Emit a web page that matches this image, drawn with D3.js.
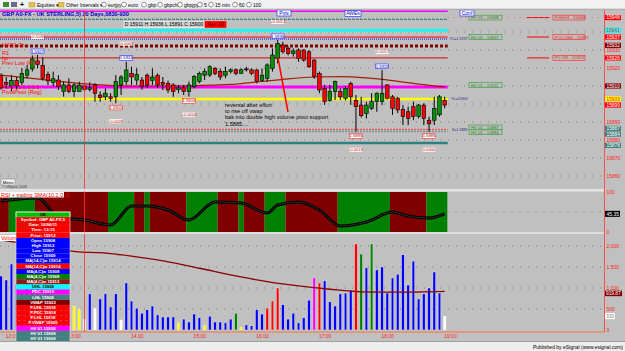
<!DOCTYPE html>
<html>
<head>
<meta charset="utf-8">
<script src="https://cdn.jsdelivr.net/npm/d3@7"></script>
<style>
  body { margin: 0; background: #c0c0c0; }
  svg { display: block; font-family: "Liberation Sans", Arial, sans-serif; }
</style>
</head>
<body>
<div id="chart"></div>
<script>
//-------- data (5 min bars, 11:50 .. 18:55) --------//
const openP  = [15916,15912,15910,15913,15912,15916,15919.5,15924,15921.5,15916.5,15912,15913.3,15906.9,15910.6,15906.9,15907,15910,15908,15910.6,15905,15904,15904,15904,15910.6,15912.4,15917,15913.3,15913.3,15916,15913,15916,15912,15911.5,15910.6,15908,15909,15906.9,15909.6,15912.4,15916,15916.1,15919.8,15918,15916,15918,15919,15917,15919.5,15919,15918.9,15913,15914.3,15919.8,15925.4,15932.8,15931,15928,15930,15930,15929,15924.4,15917,15908.7,15902,15906.9,15906.9,15903.2,15911.5,15902,15899.4,15894.8,15897.6,15901.3,15901.3,15910.6,15904,15903.2,15897,15895.7,15898.5,15893,15899.4,15891,15891,15894,15902];
const highP  = [15917,15915,15916,15915,15920,15921.7,15927,15927.2,15926,15918,15918,15916,15912.4,15914.3,15911.5,15912.4,15911.5,15912,15911.5,15907,15908.7,15906,15916.1,15916,15923.5,15920.7,15919.8,15915,15917,15919.8,15917,15915,15913,15911.5,15910.6,15910.6,15912.4,15916.1,15918,15919.8,15921.5,15920.5,15919.8,15920.7,15919.8,15919.8,15919.8,15920.7,15919.8,15919.5,15919.8,15922.6,15930.9,15935.6,15934.6,15932,15930.9,15930.9,15930.5,15930,15925,15918,15910.6,15910.6,15913,15908.7,15910,15912.4,15905,15904,15901.3,15906,15906.5,15918.9,15911,15905,15904,15899.4,15898.5,15901.3,15900,15900.4,15893,15904,15905,15904];
const lowP   = [15908,15908.7,15907,15908,15910.5,15914.3,15918,15919.8,15913,15910.5,15909.8,15907.8,15904.1,15906,15904,15906.9,15906.9,15907,15901.3,15901.3,15902.2,15901.3,15900.4,15905,15910.6,15910.6,15910.6,15908,15909,15910.6,15909,15907.8,15906,15904,15906,15905,15904.1,15908.7,15911.5,15913.3,15915,15916,15913.3,15914.3,15917,15916,15917,15918,15916,15911.5,15912.5,15912.4,15918,15922.6,15928,15927,15926.3,15923.5,15923.5,15920,15914,15906,15899.5,15901.3,15902.2,15902.2,15902,15899.5,15884.6,15892.5,15892,15896.7,15895.7,15899.4,15902.5,15894,15895,15888.3,15888.3,15891,15892,15888.3,15884.6,15888.3,15893,15897.6];
const closeP = [15909,15911,15913,15910,15917,15919,15925,15922,15914.3,15912.8,15914,15909.6,15910.6,15906.9,15910.6,15910.5,15908,15909,15906,15903.5,15906,15903,15912.4,15915,15918.9,15915,15916.5,15909.6,15910.6,15915,15910.6,15911,15907.8,15906.9,15909,15907,15910.6,15915.2,15917,15918,15920.7,15917,15915,15918,15919,15917,15919,15919,15917,15912.4,15916,15921.7,15927.2,15933.7,15929,15928,15929.5,15925.4,15924.4,15920.7,15915.2,15907.8,15901.3,15907,15912.4,15904,15908.7,15904,15898.5,15893.5,15899.4,15901.3,15906,15906,15903.2,15897.6,15896.7,15893,15892,15893,15899.4,15892,15889,15897.6,15904,15899.4];

const volume = [1285,1190,1570,1100,950,1300,1400,1050,800,900,700,650,550,480,570,500,260,860,520,740,860,550,860,240,1120,690,520,400,480,570,360,310,310,310,170,260,190,380,290,100,330,190,190,170,260,400,70,120,100,480,380,520,690,1000,600,260,400,170,290,710,1240,1120,1170,670,570,860,880,950,2050,1810,1480,2050,1430,1500,880,1240,1330,1790,1070,1640,740,860,1000,1380,880,330];
// b blue, y yellow, w white, g green, r red, m magenta
const volColor = "bbbbbbbbbbbbbbyywbwbbbbwbbbbbbbbbbybbbbybbbbbgybbbbrrrbbbbbbmrbbbbbbrgbgbbbbbbbbbbbbbw".split("");

// moving averages and RSI, read at a few bars
const maIdx    = [0,5,10,15,20,25,30,35,40,45,50,55,60,65,70,75,80,85];
const maPrice  = [15916,15914.5,15913,15911.5,15910.5,15910,15910,15910,15910.5,15911,15912.5,15914,15915,15915.2,15914.5,15913,15911,15909.5];
const volMaIdx = [0,5,10,15,19,25,30,38,45,51,57,63,69,76,85];
const volMa    = [2140,2050,1950,1860,1840,1760,1670,1470,1290,1150,1050,970,910,900,919.87];
const rsiIdx   = [0,7,11,16,21,25,28,32,36,41,46,51,53,57,61,65,70,75,78,82,85];
const rsiVal   = [77.5,85,37.5,30,17.5,65,65,55,30,75,72.5,47.5,67.5,75,55,15,25,50,40,35,45.35];
const rsiBandFrom  = [0,2,7,21,26,28,29,36,42,46,47,51,55,65,75,82];
const rsiBandTo    = [1,6,20,25,27,28,35,41,45,46,50,54,64,74,81,85];
const rsiBandColor = ["#800000","#008000","#800000","#008000","#800000","#008000","#800000","#008000","#800000","#008000","#800000","#008000","#800000","#008000","#800000","#008000"];

const timeIdx    = [2,14,26,38,50,62,74,86];
const timeLabels = ["12:00","13:00","14:00","15:00","16:00","17:00","18:00","19:00"];
const priceTicks = [15860,15870,15880,15890,15900,15910,15920,15930,15940];
const priceLabelTicks = [15860,15870,15880,15890,15920,15930]; // the others sit under the boxes
const volTicks   = [0,500,1000,1500,2000];

// horizontal levels on the price pane
const levelPrice = [15951.5,15947,15941,15937.2,15936.1,15932.2,15925.6,15909.5,15902.8,15885.8,15884.7,15878.3];
const levelColor = ["#ff00ff","#2f8080","#00ffff","#ff0000","#0000ff","#800000","#e00000","#ff00ff","#ffff00","#ff5050","#5fa0a0","#2f8080"];
const levelWidth = [1.5,1,2.5,1,1,3,1,3,2.5,1.5,1.5,2.5];
const levelDash  = [null,"3,1",null,null,"1,1","3,2",null,null,null,"2,1","2,1",null];

// boxes on the price axis
const axisBoxPrice = [15948,15941,15937.2,15932.6,15925.6,15910,15902.8,15899.4,15886.5,15883.3,15877];
const axisBoxText  = ["15948","15941","15937","15932","15926","15910","15903","15899","15887","15884","15878"];
const axisBoxColor = ["#ff0000","#00ffff","#ff0000","#800000","#ff0000","#800000","#ffff00","#ff0000","#408080","#408080","#408080"];

// swing labels
const swingIdx   = [7,24,53,73,22,36,68,82];
const swingHigh  = [true,true,true,true,false,false,false,false];
const swingText  = ["1.5927","1.5924","1.5936","1.5919","1.5900","1.5904","1.5885","1.5885"];
const swingDelta = ["+0.0030","-0.0003","+0.0012","-0.0017","-0.0028","+0.0004","-0.0019","0.0000"];

// right side tags
const hvPrice = [15948,15937.2,15910.5,15887,15884.3];
const hvText  = ["HV 01 - 15948","HV 01 - 15937","HV 01 - 15911","HV 01 - 15887","HV 01 - 15884"];
const prevPrice = [15948,15937.2,15925.6];
const prevText  = ["P.HIGH - 15948","P.CLOSE - 15937","P.LOW - 15926"];
const tagPrice = [15936.2,15902.8,15885.6];
const tagText  = ["YC=1.5937","YL=15903","S=1.5885"];

const leftLabelPrice = [15932.8,15928.5,15925.8,15923,15909.5,15906.5];
const leftLabelText  = ["MA50 Ch","R1","hp","Prev Low (P)","PL-5...1.1.1.1.1","PivotPivot (Reg)"];

const note = ["reversal after effort","to rise off vwap","bak into double high volume pivot support","1.5885...."];

const dwText = ["OK","Symbol: GBP A0-FX,5","Date: 10/06/11","Time: 13:15","Price: 15912","Open 15908","High 15912","Low 15907","Close 15909","MA(14,C)w 15914","MA(14,C)w 15914","MA(4,C)w 15908","MA(4,C)w 15908","MA(4,C)w 15913","UHL 15908","PDC 15910","LHL 15908","VWAP 15922","P.UHL 15918","P.PDC 15918","P.LHL 15918","P.VWAP 15926","HV 01 15938","HV 01 15908","HV 01 15908","HV 01 15908"];
const dwColor = ["#00c000","#ff0000","#ff0000","#ff0000","#ff0000","#0000ff","#0000ff","#0000ff","#0000ff","#0000ff","#ff0000","#0000ff","#008000","#8b1a1a","#00ffff","#ff00ff","#408080","#800000","#ff0000","#ff0000","#ff0000","#ff0000","#ff00ff","#408080","#408080","#408080"];

const toolbarItems = ["eurjpy","euro","gbp","gbpchf","gbpjpy","5","15 min","60","100"];
const toolbarX     = [104,124,144,160,180,200,211,235,249];

const cursorIdx = 16;

//-------- scales --------//
const width = 625, height = 351;
const axisX = 604.5;
const x  = d3.scaleLinear().domain([0, 86]).range([1, 1 + 86 * 5.22]);
const yP = d3.scaleLinear().domain([15860, 15950]).range([176, 14]);
const yR = d3.scaleLinear().domain([0, 100]).range([232, 192]);
const yV = d3.scaleLinear().domain([0, 2000]).range([330, 246]);
const dataEnd = x(85) + 3;

const colorOf = {b: "#0000ff", y: "#ffff00", w: "#ffffff", g: "#008000", r: "#ff0000", m: "#ff00ff"};

const svg = d3.create("svg").attr("width", width).attr("height", height);

svg.append("rect").attr("width", width).attr("height", height).attr("fill", "#c0c0c0");

//-------- grid --------//
svg.append("g").selectAll("line").data(priceTicks).join("line")
  .attr("x1", 0).attr("x2", axisX - 2)
  .attr("y1", d => yP(d)).attr("y2", d => yP(d))
  .attr("stroke", "#808080").attr("stroke-dasharray", "1,7");

//-------- RSI pane --------//
svg.append("g").selectAll("rect").data(rsiBandFrom).join("rect")
  .attr("x", (d, i) => x(d) - 2.6)
  .attr("width", (d, i) => x(rsiBandTo[i]) - x(d) + 5.22)
  .attr("y", 192).attr("height", 40)
  .attr("fill", (d, i) => rsiBandColor[i]);
svg.append("line").attr("x1", dataEnd).attr("x2", axisX - 2).attr("y1", yR(50)).attr("y2", yR(50))
  .attr("stroke", "#808080").attr("stroke-dasharray", "1,7");

const rsiLine = d3.line().x(d => x(d)).y((d, i) => yR(rsiVal[i])).curve(d3.curveMonotoneX);
svg.append("path").attr("d", rsiLine(rsiIdx)).attr("fill", "none").attr("stroke", "#000").attr("stroke-width", 3);
svg.append("path").attr("d", rsiLine(rsiIdx)).attr("fill", "none").attr("stroke", "#5a5a5a").attr("stroke-width", 0.5);

svg.append("rect").attr("x", 0).attr("y", 191.5).attr("width", 64).attr("height", 6).attr("fill", "#fff");
svg.append("text").attr("x", 1).attr("y", 196.5).attr("font-size", 5.5).attr("fill", "#ff0000")
  .text("RSI + trailing SMA(10,2,0,2)");

//-------- volume pane --------//
svg.append("g").selectAll("line").data(volTicks.slice(1)).join("line")
  .attr("x1", 0).attr("x2", axisX - 2)
  .attr("y1", d => yV(d)).attr("y2", d => yV(d))
  .attr("stroke", "#808080").attr("stroke-dasharray", "1,7");

svg.append("g").selectAll("rect").data(volume).join("rect")
  .attr("x", (d, i) => x(i) - 1.3)
  .attr("width", 2.6)
  .attr("y", d => yV(d))
  .attr("height", d => yV(0) - yV(d))
  .attr("fill", (d, i) => colorOf[volColor[i]])
  .attr("stroke", "#e8e8e8").attr("stroke-width", 0.4);

svg.append("path")
  .attr("d", d3.line().x(d => x(d)).y((d, i) => yV(volMa[i])).curve(d3.curveMonotoneX)(volMaIdx))
  .attr("fill", "none").attr("stroke", "#8b0000").attr("stroke-width", 1.3);

svg.append("rect").attr("x", 0).attr("y", 235).attr("width", 18).attr("height", 6).attr("fill", "#fff");
svg.append("text").attr("x", 1).attr("y", 240).attr("font-size", 5.5).attr("fill", "#ff0000").text("Volume");

//-------- price pane: levels --------//
svg.append("g").selectAll("line").data(levelPrice).join("line")
  .attr("x1", 0).attr("x2", dataEnd)
  .attr("y1", d => yP(d)).attr("y2", d => yP(d))
  .attr("stroke", (d, i) => levelColor[i])
  .attr("stroke-width", (d, i) => levelWidth[i])
  .attr("stroke-dasharray", (d, i) => levelDash[i]);
svg.append("line").attr("x1", 0).attr("x2", dataEnd).attr("y1", 18.5).attr("y2", 18.5)
  .attr("stroke", "#909090").attr("stroke-dasharray", "1,3");

// price moving average
svg.append("path")
  .attr("d", d3.line().x(d => x(d)).y((d, i) => yP(maPrice[i])).curve(d3.curveMonotoneX)(maIdx))
  .attr("fill", "none").attr("stroke", "#a02000").attr("stroke-width", 1.2);

//-------- candles --------//
const candles = svg.append("g");
candles.selectAll("line").data(openP).join("line")
  .attr("x1", (d, i) => x(i)).attr("x2", (d, i) => x(i))
  .attr("y1", (d, i) => yP(highP[i])).attr("y2", (d, i) => yP(lowP[i]))
  .attr("stroke", "#000").attr("stroke-width", 1);
candles.selectAll("rect").data(openP).join("rect")
  .attr("x", (d, i) => x(i) - 1.8)
  .attr("width", 3.6)
  .attr("y", (d, i) => yP(Math.max(d, closeP[i])))
  .attr("height", (d, i) => Math.max(0.8, Math.abs(yP(d) - yP(closeP[i]))))
  .attr("fill", (d, i) => closeP[i] >= d ? "#009000" : "#ff0000")
  .attr("stroke", "#000").attr("stroke-width", 0.6);

// swing labels
const swing = svg.append("g").attr("font-size", 4.2).attr("text-anchor", "middle");
swingIdx.forEach((idx, k) => {
  const yy = swingHigh[k] ? yP(highP[idx]) - 6 : yP(lowP[idx]) + 2;
  const yd = swingHigh[k] ? yy - 14 : yy + 14;
  swing.append("rect").attr("x", x(idx) - 6.5).attr("y", yy).attr("width", 13).attr("height", 4.6)
    .attr("fill", "#fff").attr("stroke", swingHigh[k] ? "#3030ff" : "#ff3030").attr("stroke-width", 0.6);
  swing.append("text").attr("x", x(idx)).attr("y", yy + 3.7).attr("fill", swingHigh[k] ? "#0000c0" : "#c00000").text(swingText[k]);
  swing.append("rect").attr("x", x(idx) - 6.5).attr("y", yd).attr("width", 13).attr("height", 4)
    .attr("fill", "#fff");
  swing.append("text").attr("x", x(idx)).attr("y", yd + 3.4).attr("fill", "#c00000").text(swingDelta[k]);
});

// left labels
svg.append("g").selectAll("text").data(leftLabelText).join("text")
  .attr("x", 2).attr("y", (d, i) => yP(leftLabelPrice[i]) + 2)
  .attr("font-size", 5.5).attr("fill", "#ff0000").text(d => d);

// annotation
svg.append("line").attr("x1", 278).attr("y1", 58).attr("x2", 288).attr("y2", 112)
  .attr("stroke", "#ff0000").attr("stroke-width", 1.5);
svg.append("g").selectAll("text").data(note).join("text")
  .attr("x", 225).attr("y", (d, i) => 107 + i * 6.2)
  .attr("font-size", 5.6).attr("fill", "#000").text(d => d);

//-------- right side tags --------//
const tags = svg.append("g").attr("font-size", 4.3);
hvPrice.forEach((p, i) => {
  tags.append("rect").attr("x", 469).attr("y", yP(p) - 2.4).attr("width", 33).attr("height", 4.8)
    .attr("fill", "#c0c0c0").attr("stroke", "#40a040").attr("stroke-width", 0.7);
  tags.append("text").attr("x", 471).attr("y", yP(p) + 1.5).attr("fill", "#208020").text(hvText[i]);
});
prevPrice.forEach((p, i) => {
  tags.append("line").attr("x1", 527).attr("x2", 549).attr("y1", yP(p)).attr("y2", yP(p))
    .attr("stroke", "#ff0000").attr("stroke-width", 1);
  tags.append("rect").attr("x", 553).attr("y", yP(p) - 2.4).attr("width", 32).attr("height", 4.8)
    .attr("fill", "#c0c0c0").attr("stroke", "#ff3030").attr("stroke-width", 0.7);
  tags.append("text").attr("x", 555).attr("y", yP(p) + 1.5).attr("fill", "#e02020").text(prevText[i]);
});
tags.selectAll(".tag").data(tagText).join("text")
  .attr("x", 467.5).attr("y", (d, i) => yP(tagPrice[i]) + 1.3)
  .attr("text-anchor", "end").attr("font-size", 3.6)
  .attr("fill", "#202080").text(d => d);
svg.append("line").attr("x1", dataEnd).attr("x2", axisX).attr("y1", yP(15948)).attr("y2", yP(15948))
  .attr("stroke", "#ff6060").attr("stroke-dasharray", "1,5");

// top boxes
const topBox = (x0, y0, w, label, stroke, fill, color) => {
  svg.append("rect").attr("x", x0).attr("y", y0).attr("width", w).attr("height", 6)
    .attr("fill", fill).attr("stroke", stroke).attr("stroke-width", 0.7);
  svg.append("text").attr("x", x0 + w / 2).attr("y", y0 + 4.6).attr("text-anchor", "middle")
    .attr("font-size", 5).attr("fill", color).text(label);
};
topBox(277, 10, 14, "Pvts", "#3030ff", "#fff", "#0000c0");
topBox(345, 10.5, 16, "AWEs", "#3030ff", "#fff", "#0000c0");
topBox(460, 10, 14, "Conf", "#3030ff", "#fff", "#0000c0");
topBox(124, 21.5, 80, "D  15911   H  15936   L  15891   C  15900", "#f0f0f0", "#d0d0d0", "#000");
topBox(205, 21.5, 21, "Net -10", "#ff0000", "#ff0000", "#600000");

svg.append("text").attr("x", 2).attr("y", 15.5).attr("font-size", 5.6).attr("font-weight", "bold")
  .attr("fill", "#0000c8").text("GBP A0-FX - UK STERLING,5) 20 Days,0830-930");

//-------- cursor line --------//
svg.append("line").attr("x1", x(cursorIdx)).attr("x2", x(cursorIdx)).attr("y1", 10).attr("y2", 332)
  .attr("stroke", "#ff3030").attr("stroke-width", 0.8);

//-------- panel separators and axes --------//
svg.append("rect").attr("x", 0).attr("y", 189).attr("width", axisX).attr("height", 2.5).attr("fill", "#e4e4e4");
svg.append("rect").attr("x", 0).attr("y", 232.3).attr("width", axisX).attr("height", 1.6).attr("fill", "#e4e4e4");
svg.append("line").attr("x1", 0).attr("x2", axisX).attr("y1", 332).attr("y2", 332).attr("stroke", "#ff7040");
svg.append("line").attr("x1", axisX).attr("x2", axisX).attr("y1", 9).attr("y2", 332).attr("stroke", "#ff5050");

const styleAxis = g => {
  g.select(".domain").remove();
  g.selectAll("line").remove();
  g.selectAll("text").attr("font-size", 5).attr("fill", "#ff2020").attr("font-family", "Liberation Sans, Arial");
};
svg.append("g").attr("transform", `translate(${axisX},0)`)
  .call(d3.axisRight(yP).tickValues(priceLabelTicks).tickFormat(d3.format("d")).tickSize(0).tickPadding(2))
  .call(styleAxis);
svg.append("g").attr("transform", `translate(${axisX},0)`)
  .call(d3.axisRight(yR).tickValues([0, 100]).tickSize(0).tickPadding(2))
  .call(styleAxis);
svg.append("g").attr("transform", `translate(${axisX},0)`)
  .call(d3.axisRight(yV).tickValues(volTicks).tickFormat(d3.format(",")).tickSize(0).tickPadding(2))
  .call(styleAxis);
svg.append("g").attr("transform", "translate(0,332)")
  .call(d3.axisBottom(x).tickValues(timeIdx).tickFormat((d, i) => timeLabels[i]).tickSize(0).tickPadding(2))
  .call(styleAxis);

// boxes on the price axis
const axBox = svg.append("g");
axisBoxPrice.forEach((p, i) => {
  axBox.append("rect").attr("x", axisX + 0.5).attr("y", yP(p) - 2.6).attr("width", 16).attr("height", 5.2)
    .attr("fill", axisBoxColor[i]);
  axBox.append("text").attr("x", axisX + 2).attr("y", yP(p) + 1.7).attr("font-size", 4.8)
    .attr("fill", axisBoxColor[i] === "#ffff00" || axisBoxColor[i] === "#00ffff" ? "#ff2020" : "#fff")
    .text(axisBoxText[i]);
});
axBox.append("rect").attr("x", axisX + 0.5).attr("y", yR(rsiVal[rsiVal.length - 1]) - 3).attr("width", 15).attr("height", 6).attr("fill", "#000");
axBox.append("text").attr("x", axisX + 2).attr("y", yR(rsiVal[rsiVal.length - 1]) + 1.8).attr("font-size", 5).attr("fill", "#fff")
  .text(d3.format(".2f")(rsiVal[rsiVal.length - 1]));
// volume MA box sits just under the 1,000 label
const vmaY = yV(volMa[volMa.length - 1]) + 1.8;
axBox.append("rect").attr("x", axisX + 0.5).attr("y", vmaY - 2.5).attr("width", 17).attr("height", 5.5).attr("fill", "#800000");
axBox.append("text").attr("x", axisX + 1.5).attr("y", vmaY + 1.6).attr("font-size", 4.8).attr("fill", "#fff")
  .text(d3.format(".2f")(volMa[volMa.length - 1]));
axBox.append("rect").attr("x", axisX + 0.5).attr("y", yV(volume[85]) - 3).attr("width", 10).attr("height", 6).attr("fill", "#fff");
axBox.append("text").attr("x", axisX + 1.5).attr("y", yV(volume[85]) + 1.8).attr("font-size", 5).attr("fill", "#808080")
  .text(volume[85]);

//-------- data window --------//
const dw = svg.append("g").attr("font-size", 4.3).attr("font-weight", "bold").attr("text-anchor", "middle");
dw.selectAll("rect").data(dwText).join("rect")
  .attr("x", 16).attr("y", (d, i) => 212 + i * 5.17).attr("width", 54).attr("height", 5.17)
  .attr("fill", (d, i) => dwColor[i]).attr("stroke", (d, i) => i === 0 ? "#fff" : "none").attr("stroke-width", 0.6);
dw.selectAll("text").data(dwText).join("text")
  .attr("x", 43).attr("y", (d, i) => 215.9 + i * 5.17)
  .attr("fill", (d, i) => (i === 0 || dwColor[i] === "#00ffff") ? "#000" : "#fff")
  .text(d => d);
svg.append("rect").attr("x", 16).attr("y", 212).attr("width", 54).attr("height", 130)
  .attr("fill", "none").attr("stroke", "#e0e0e0").attr("stroke-width", 0.6);

// menu button
svg.append("rect").attr("x", 1).attr("y", 179).attr("width", 14).attr("height", 6).attr("fill", "#f0f0f0").attr("stroke", "#808080").attr("stroke-width", 0.5);
svg.append("text").attr("x", 8).attr("y", 183.5).attr("text-anchor", "middle").attr("font-size", 4.2).text("Menu");
svg.append("text").attr("x", 2).attr("y", 188.3).attr("font-size", 3.6).attr("fill", "#404040").text("© eSignal 2008");

//-------- toolbar and status bar --------//
svg.append("rect").attr("x", 0).attr("y", 0).attr("width", width).attr("height", 9).attr("fill", "#f2f2f2");
svg.append("line").attr("x1", 0).attr("x2", width).attr("y1", 9.2).attr("y2", 9.2).attr("stroke", "#a8a8a8");
svg.append("rect").attr("x", 3).attr("y", 2).attr("width", 6).attr("height", 5).attr("fill", "#3a8a3a");
svg.append("rect").attr("x", 11).attr("y", 2).attr("width", 6).attr("height", 5).attr("fill", "#6a6a8a");
svg.append("text").attr("x", 20).attr("y", 7.3).attr("font-size", 7).attr("font-weight", "bold").text("+");
[29, 58].forEach(fx => {
  svg.append("rect").attr("x", fx).attr("y", 2.5).attr("width", 6).attr("height", 4.5).attr("fill", "#e8c050").attr("stroke", "#a08020").attr("stroke-width", 0.4);
});
svg.append("text").attr("x", 37).attr("y", 6.8).attr("font-size", 5).text("Equities ▾");
svg.append("text").attr("x", 66).attr("y", 6.8).attr("font-size", 5).text("Other Intervals ▾");
const tb = svg.append("g").attr("font-size", 5);
toolbarItems.forEach((t, i) => {
  tb.append("circle").attr("cx", toolbarX[i]).attr("cy", 4.6).attr("r", 2.4).attr("fill", "#fff").attr("stroke", "#333").attr("stroke-width", 0.5);
  tb.append("text").attr("x", toolbarX[i] + 4).attr("y", 6.8).text(t);
});

svg.append("rect").attr("x", 0).attr("y", 341.5).attr("width", width).attr("height", 9.5).attr("fill", "#eeeeee");
svg.append("line").attr("x1", 0).attr("x2", width).attr("y1", 341.5).attr("y2", 341.5).attr("stroke", "#a0a0a0");
svg.append("text").attr("x", 623).attr("y", 348.5).attr("text-anchor", "end").attr("font-size", 5).attr("fill", "#000")
  .text("Published by eSignal (www.esignal.com)");

document.getElementById("chart").appendChild(svg.node());
</script>
</body>
</html>
